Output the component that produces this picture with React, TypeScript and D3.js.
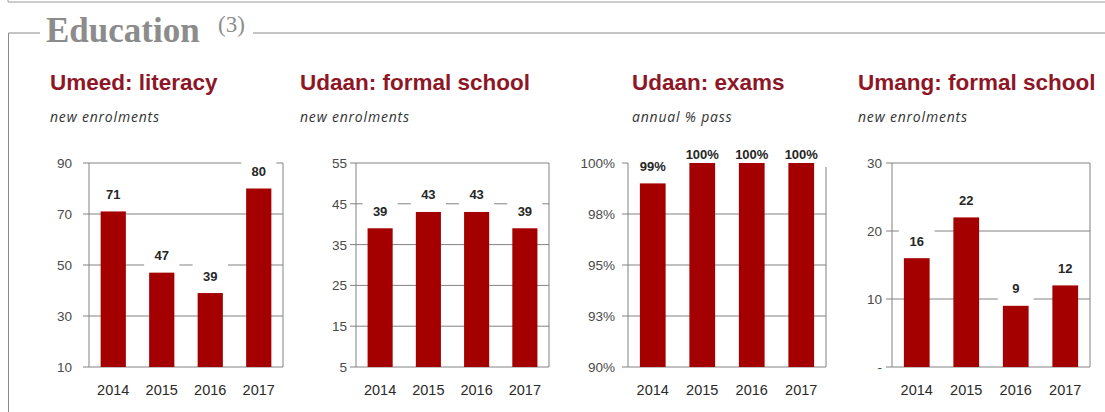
import * as d3 from 'd3'

// data
const years = ['2014', '2015', '2016', '2017']

const umeedLiteracy = [71, 47, 39, 80]
const udaanFormalSchool = [39, 43, 43, 39]
const udaanExamsPass = [99, 100, 100, 100]
const umangFormalSchool = [16, 22, 9, 12]

const umeedTicks = [10, 30, 50, 70, 90]
const udaanSchoolTicks = [5, 15, 25, 35, 45, 55]
const examTicks = [90, 92.5, 95, 97.5, 100]
const examTickLabels = ['90%', '93%', '95%', '98%', '100%']
const umangTicks = [0, 10, 20, 30]
const umangTickLabels = ['-', '10', '20', '30']

const panelTitles = ['Umeed: literacy', 'Udaan: formal school', 'Udaan: exams', 'Umang: formal school']
const panelSubtitles = ['new enrolments', 'new enrolments', 'annual % pass', 'new enrolments']

const W = 1105
const H = 412
const plotTop = 163
const plotBottom = 367
const barColor = '#A50000'
const gridColor = '#828282'
const titleColor = '#8E1626'

interface PanelProps {
  title: string
  subtitle: string
  values: number[]
  ticks: number[]
  tickLabels?: string[]
  titleX: number
  left: number
  right: number
  labelGap: number
  topLine?: boolean
  suffix?: string
}

function Panel({
  title,
  subtitle,
  values,
  ticks,
  tickLabels,
  titleX,
  left,
  right,
  labelGap,
  topLine = true,
  suffix = '',
}: PanelProps) {
  const x = d3.scaleBand<string>().domain(years).range([left, right]).paddingInner(0.48).paddingOuter(0.24)
  const y = d3
    .scaleLinear()
    .domain([d3.min(ticks) as number, d3.max(ticks) as number])
    .range([plotBottom, plotTop])
  const bw = x.bandwidth()
  const maxTick = d3.max(ticks) as number

  // labels sit above the bar, but never higher than just over the plot top
  const labelY = (v: number) => Math.max(y(v) - 17, plotTop - 9)

  return (
    <g>
      <text
        x={titleX}
        y={90}
        fontFamily="Arial, 'Liberation Sans', sans-serif"
        fontWeight="bold"
        fontSize={22.5}
        fill={titleColor}
      >
        {title}
      </text>
      <text
        x={titleX}
        y={122}
        fontFamily="'Open Sans', Lato, sans-serif"
        fontStyle="italic"
        fontSize={14}
        letterSpacing={0.8}
        fill="#333"
      >
        {subtitle}
      </text>

      {/* gridlines + ticks */}
      {ticks.map((t, i) => (
        <g key={t}>
          <line
            x1={left - 6}
            x2={t === maxTick && !topLine ? left : right}
            y1={y(t)}
            y2={y(t)}
            stroke={gridColor}
            strokeWidth={1}
          />
          <text
            x={left - labelGap}
            y={y(t) + 5}
            textAnchor="end"
            fontFamily="Arial, 'Liberation Sans', sans-serif"
            fontSize={13.5}
            fill="#4a4a4a"
          >
            {tickLabels ? tickLabels[i] : t}
          </text>
        </g>
      ))}

      {/* frame sides */}
      <line x1={left} x2={left} y1={plotTop} y2={plotBottom} stroke={gridColor} />
      <line x1={right} x2={right} y1={topLine ? plotTop : plotTop + 4} y2={plotBottom} stroke={gridColor} />

      {/* label backgrounds knock out gridlines */}
      {values.map((v, i) => (
        <rect
          key={'bg' + i}
          x={(x(years[i]) as number) - 5}
          y={labelY(v) - 13}
          width={bw + 10}
          height={28}
          fill="#fff"
        />
      ))}

      {values.map((v, i) => (
        <rect
          key={'bar' + i}
          x={x(years[i])}
          y={y(v)}
          width={bw}
          height={plotBottom - y(v)}
          fill={barColor}
        />
      ))}

      {values.map((v, i) => (
        <text
          key={'lbl' + i}
          x={(x(years[i]) as number) + bw / 2}
          y={labelY(v) + 4.5}
          textAnchor="middle"
          fontFamily="Arial, 'Liberation Sans', sans-serif"
          fontWeight="bold"
          fontSize={13}
          fill="#262626"
        >
          {v + suffix}
        </text>
      ))}

      {years.map((yr) => (
        <text
          key={yr}
          x={(x(yr) as number) + bw / 2}
          y={395}
          textAnchor="middle"
          fontFamily="Arial, 'Liberation Sans', sans-serif"
          fontSize={14.5}
          fill="#2a2a2a"
        >
          {yr}
        </text>
      ))}
    </g>
  )
}

export default function App() {
  return (
    <div style={{ position: 'absolute', left: 0, top: 0, width: W, height: H, background: '#fff' }}>
      <svg width={W} height={H} style={{ display: 'block' }}>
        <rect width={W} height={H} fill="#fff" />

        {/* bottom edge of previous section */}
        <line x1={8} x2={W} y1={2} y2={2} stroke="#9a9a9a" />
        <line x1={8} x2={8} y1={0} y2={2} stroke="#9a9a9a" />

        {/* section box */}
        <polyline points={`40,33 8.5,33 8.5,${H}`} fill="none" stroke="#8a8a8a" />
        <line x1={253} x2={W} y1={33} y2={33} stroke="#8a8a8a" />
        <text
          x={46}
          y={42}
          fontFamily="'Liberation Serif', 'Times New Roman', serif"
          fontWeight="bold"
          fontSize={35}
          fill="#8c8c8c"
        >
          Education
        </text>
        <text x={218} y={32} fontFamily="'Liberation Serif', 'Times New Roman', serif" fontSize={23} fill="#8c8c8c">
          (3)
        </text>

        <Panel
          title={panelTitles[0]}
          subtitle={panelSubtitles[0]}
          values={umeedLiteracy}
          ticks={umeedTicks}
          titleX={50}
          left={89}
          right={283}
          labelGap={17}
        />
        <Panel
          title={panelTitles[1]}
          subtitle={panelSubtitles[1]}
          values={udaanFormalSchool}
          ticks={udaanSchoolTicks}
          titleX={300}
          left={356}
          right={549}
          labelGap={9}
        />
        <Panel
          title={panelTitles[2]}
          subtitle={panelSubtitles[2]}
          values={udaanExamsPass}
          ticks={examTicks}
          tickLabels={examTickLabels}
          titleX={632}
          left={628}
          right={826}
          labelGap={13}
          topLine={false}
          suffix="%"
        />
        <Panel
          title={panelTitles[3]}
          subtitle={panelSubtitles[3]}
          values={umangFormalSchool}
          ticks={umangTicks}
          tickLabels={umangTickLabels}
          titleX={858}
          left={892}
          right={1090}
          labelGap={10}
        />
      </svg>
    </div>
  )
}
